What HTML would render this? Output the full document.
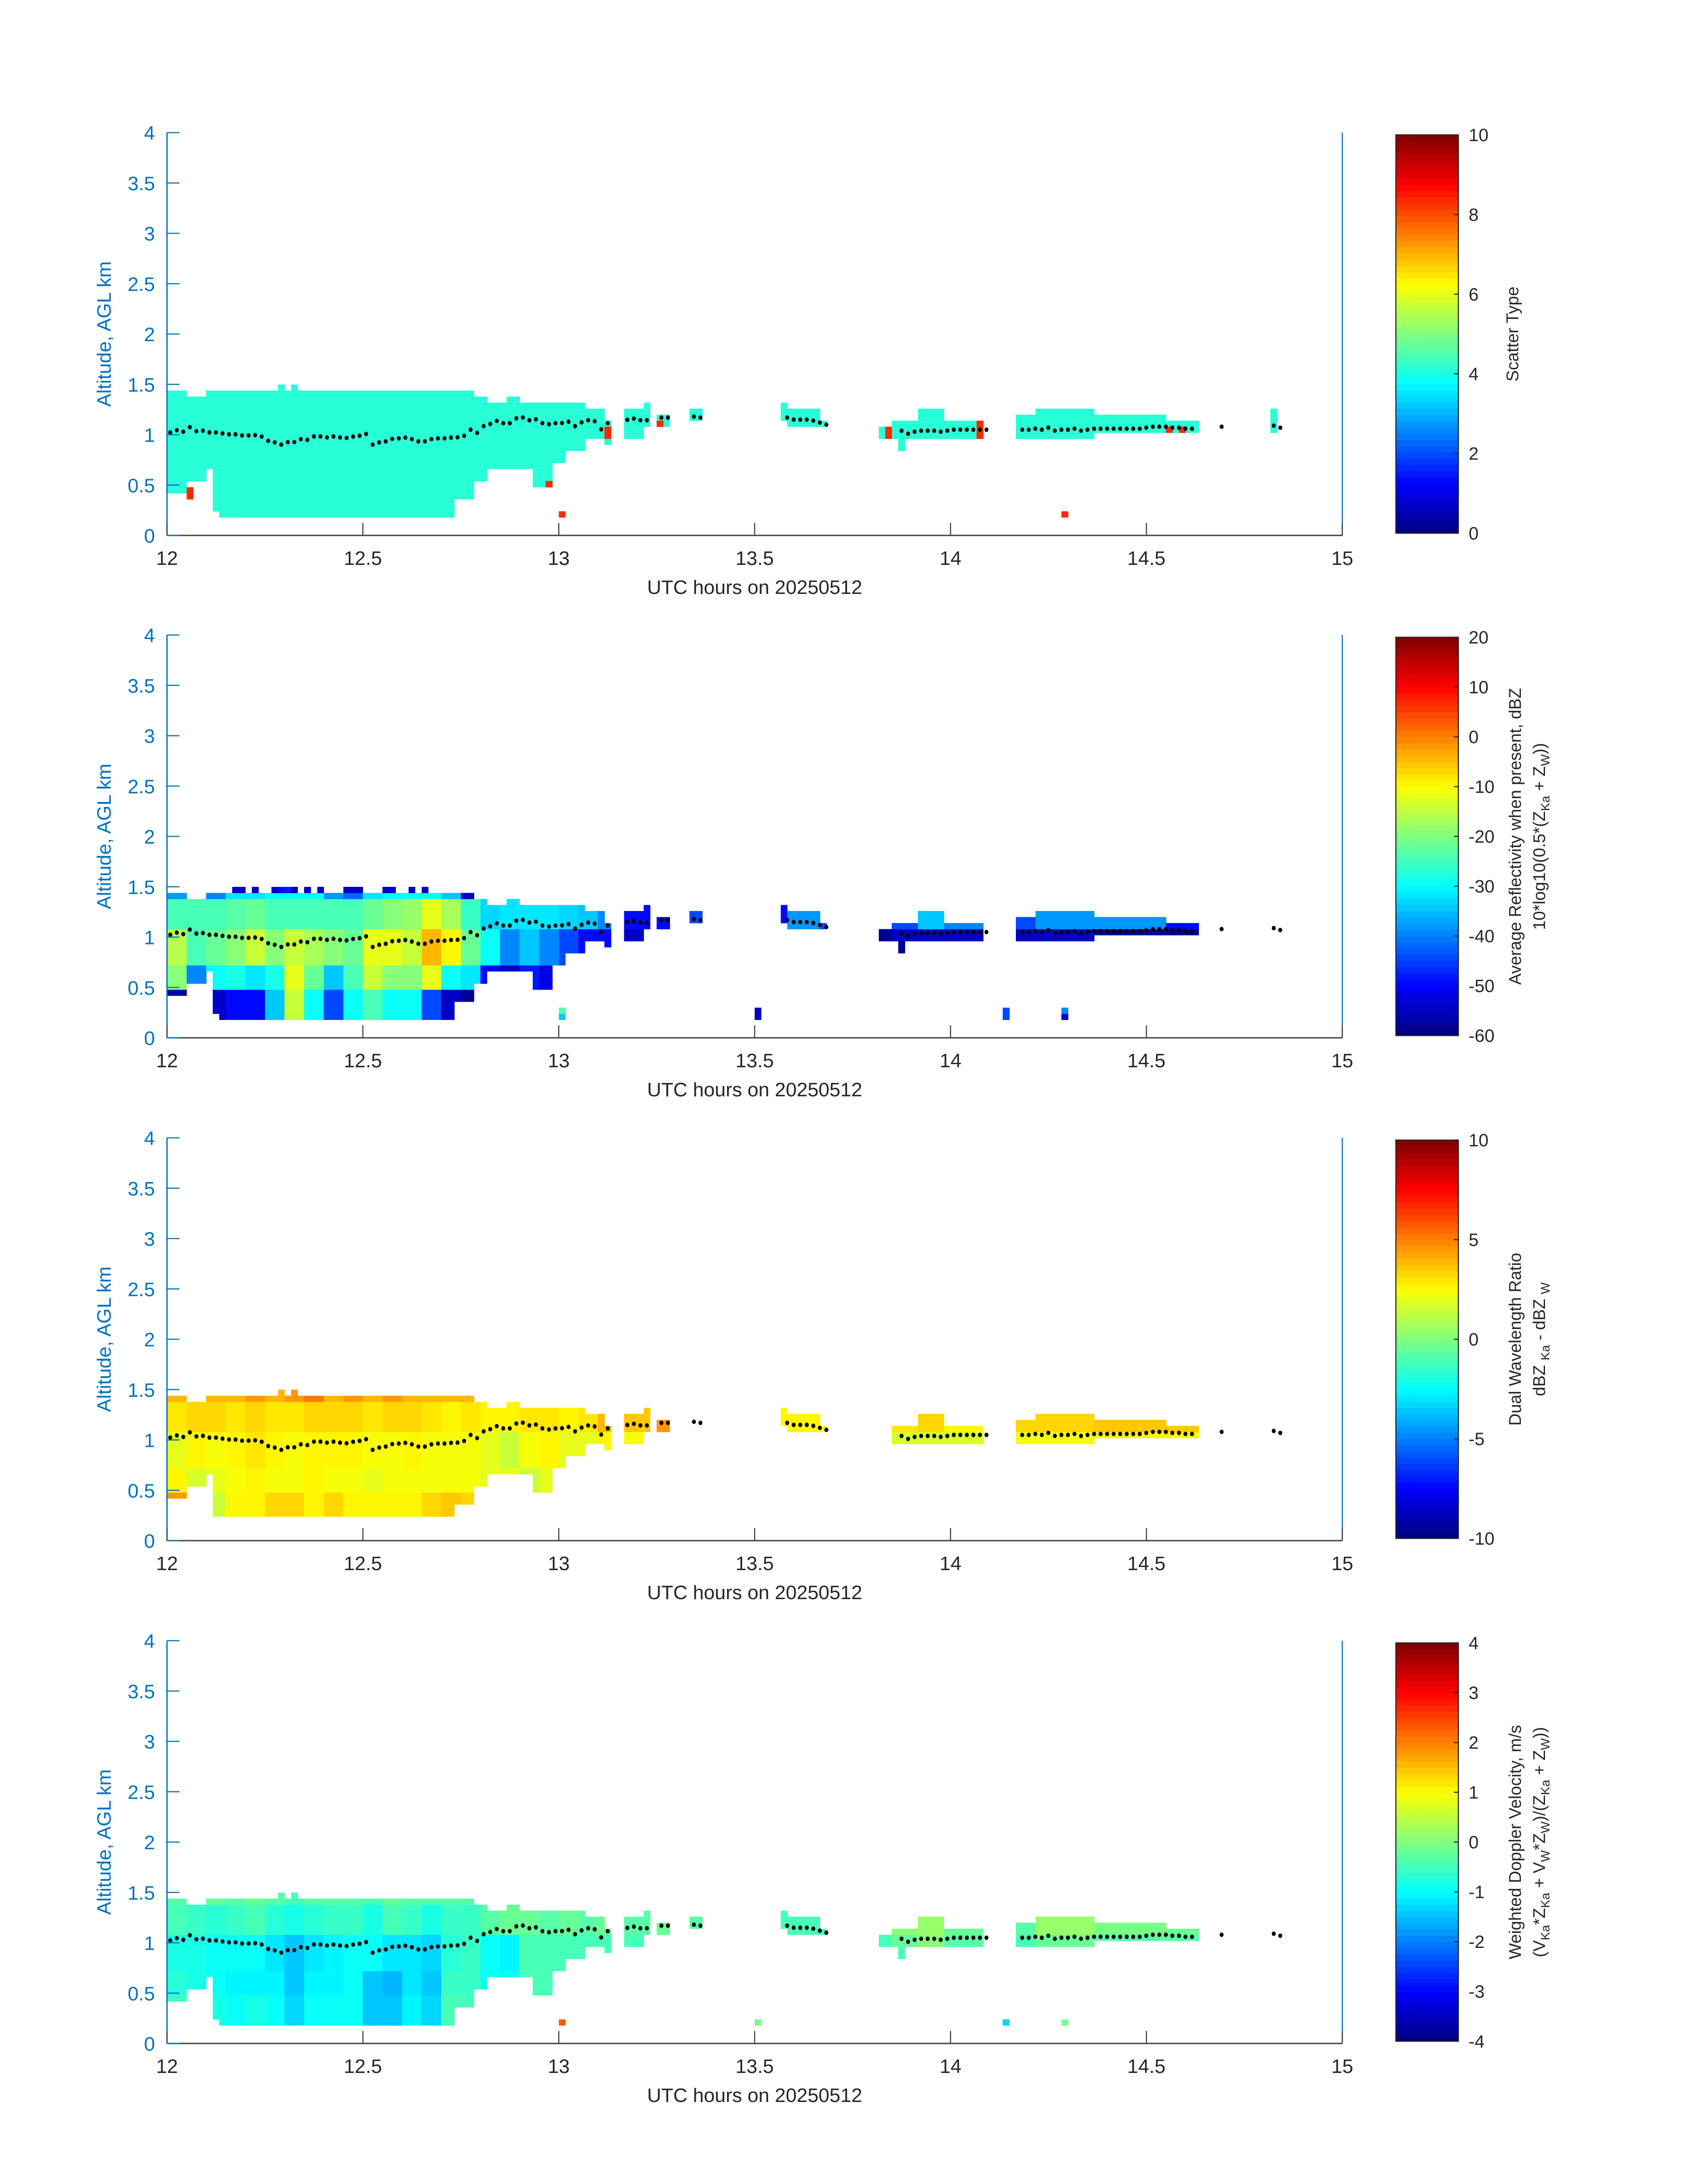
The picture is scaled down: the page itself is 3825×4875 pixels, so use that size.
<!DOCTYPE html>
<html><head><meta charset="utf-8"><title>Radar panels</title>
<style>
html,body{margin:0;padding:0;background:#fff;}
svg{display:block;font-family:"Liberation Sans",sans-serif;}
</style></head>
<body>
<svg id="fig" width="3825" height="4875" viewBox="0 0 3825 4875" xmlns="http://www.w3.org/2000/svg"></svg>
<script>
// ---------- data ----------
const xTicks = [12, 12.5, 13, 13.5, 14, 14.5, 15];
const yTicks = [0, 0.5, 1, 1.5, 2, 2.5, 3, 3.5, 4];
const cbTicks1 = [0, 2, 4, 6, 8, 10];
const cbTicks2 = [-60, -50, -40, -30, -20, -10, 0, 10, 20];
const cbTicks3 = [-10, -5, 0, 5, 10];
const cbTicks4 = [-4, -3, -2, -1, 0, 1, 2, 3, 4];

// cloud mask segments [tStart, tEnd, zBottom, zTop]
const mainSegs = [
  [12.00,12.05,0.42,1.44],[12.05,12.10,0.54,1.38],[12.10,12.12,0.66,1.44],
  [12.12,12.14,0.24,1.44],[12.14,12.73,0.18,1.44],[12.29,12.30,1.44,1.50],[12.32,12.33,1.44,1.50],
  [12.73,12.78,0.36,1.44],[12.78,12.82,0.54,1.38],[12.82,12.94,0.66,1.32],[12.87,12.90,1.32,1.38],
  [12.94,12.99,0.48,1.32],[12.99,13.02,0.72,1.32],[13.02,13.06,0.84,1.32],[13.06,13.12,0.96,1.26],
  [13.12,13.135,0.90,1.14]
];
const islands = [
  [13.17,13.21,0.96,1.26],[13.21,13.23,1.08,1.32],[13.25,13.28,1.08,1.20],[13.33,13.36,1.14,1.26],
  [13.57,13.59,1.14,1.32],[13.59,13.66,1.08,1.26],[13.66,13.68,1.08,1.14],[13.82,13.85,0.96,1.08],
  [13.85,13.92,0.96,1.14],[13.87,13.88,0.84,0.96],[13.92,13.99,0.96,1.26],[13.99,14.08,0.96,1.14],
  [14.17,14.21,0.96,1.20],[14.21,14.37,0.96,1.26],[14.37,14.55,1.02,1.20],[14.55,14.63,1.02,1.14],
  [14.68,14.69,1.08,1.26],[14.82,14.84,1.02,1.26]
];

// panel 1: scatter type
const p1Base = 4.2;
const p1Red = [[12.055,0.36,0.48,8.3],[12.975,0.48,0.54,8.3],[13.015,0.18,0.24,8.3],[13.125,0.96,1.08,8.3],
  [13.265,1.08,1.14,8.3],[13.835,0.96,1.08,8.3],[14.075,0.96,1.14,8.3],[14.285,0.18,0.24,8.3],
  [14.555,1.02,1.08,8.3],[14.585,1.02,1.08,8.3]];
const p1IslUp = [4.2,4.2,4.2,4.2,4.2,4.2,4.2,4.2,4.2,4.2,4.2,4.2,4.2,4.2,4.2,4.2,4.2,4.2];
const p1IslLo = [4.2,4.2,4.2,4.2,4.2,4.2,4.2,4.2,4.2,4.2,4.2,4.2,4.2,4.2,4.2,4.2,4.2,4.2];

// panel 2: reflectivity, bins of 0.05 h from 12.00; bands cap>=1.38, hi 1.1-1.38, mid .75-1.1, lo .45-.75, bot <.45
const p2Cap = [-38,-50,-40,-32,-32,-30,-30,-30,-38,-42,-32,-30,-30,-30,-35,-55,-50,-50,-55,-55,-55,-55,-55,-55];
const p2Hi  = [-24,-24,-24,-23,-22,-24,-24,-24,-25,-25,-22,-19,-18,-12,-17,-26,-33,-32,-32,-32,-33,-35,-40,-45];
const p2Mid = [-16,-25,-22,-20,-15,-20,-14,-17,-20,-22,-12,-12,-15,-5,-10,-22,-30,-40,-35,-40,-45,-50,-50,-55];
const p2Lo  = [-20,-40,-30,-28,-32,-28,-12,-22,-35,-25,-15,-20,-20,-12,-30,-32,-50,-55,-48,-52,-55,-55,-55,-55];
const p2Bot = [-57,-57,-55,-50,-50,-35,-15,-30,-45,-30,-25,-30,-30,-45,-55,-58,-58,-58,-58,-58,-58,-58,-58,-58];
const p2IslUp = [-50,-50,-50,-45,-50,-38,-45,-58,-45,-58,-35,-40,-45,-38,-38,-50,null,null];
const p2IslLo = [-55,-55,-55,-55,-55,-45,-50,-58,-55,-58,-55,-55,-55,-55,-58,-58,null,null];
const p2Extra = [[12.17,1.44,1.50,-55],[12.185,1.44,1.50,-55],[12.225,1.44,1.50,-55],[12.275,1.44,1.50,-55],
  [12.29,1.44,1.50,-50],[12.305,1.44,1.50,-48],[12.32,1.44,1.50,-55],[12.365,1.44,1.50,-55],[12.385,1.44,1.50,-55],
  [12.455,1.44,1.50,-55],[12.47,1.44,1.50,-55],[12.485,1.44,1.50,-55],[12.555,1.44,1.50,-55],[12.575,1.44,1.50,-55],
  [12.625,1.44,1.50,-55],[12.665,1.44,1.50,-55],
  [13.015,0.18,0.24,-35],[13.015,0.24,0.30,-25],[13.515,0.18,0.30,-55],[14.145,0.18,0.30,-45],[14.285,0.18,0.24,-55],[14.295,0.24,0.30,-40]];

// panel 3: DWR
const p3Cap = [4,4.5,4,4,4.5,4,4.5,5,4,4.5,4,4.5,4,4,4,4,4,4,4,4,4,4,4,4];
const p3Hi  = [3.0,3.3,3.3,3.0,3.3,3.0,3.0,3.3,3.3,3.3,3.0,3.3,3.3,3.0,2.8,3.0,2.6,2.6,3.0,3.0,2.6,3.0,4.0,4.0];
const p3Mid = [2.0,2.6,2.4,2.8,3.0,2.8,2.4,2.8,2.8,2.8,2.4,2.4,2.8,2.4,2.4,2.4,2.0,1.5,2.4,2.8,2.0,2.0,2.8,3.0];
const p3Lo  = [2.5,1.8,2.0,2.3,2.6,2.4,2.4,2.6,2.4,2.4,2.0,2.3,2.3,2.4,2.4,2.4,2.0,2.0,1.5,2.0,1.5,1.5,1.5,1.5];
const p3Bot = [4.5,4,1.5,2.5,2.8,3.2,3.2,2.8,3.2,2.8,2.5,2.5,2.8,3.2,3.5,3.2,2.5,2.5,2.5,2.5,2.5,2.5,2.5,2.5];
const p3IslUp = [3.5,3.5,4.5,null,2.5,2.5,2.5,null,3,null,3.2,2.5,3.2,3.2,3.5,3.5,null,null];
const p3IslLo = [2.2,2.2,2.2,null,2.5,2.5,2.5,null,1.8,null,1.8,1.8,2.2,2.2,2.5,2.5,null,null];

// panel 4: Doppler velocity
const p4Cap = [-0.3,-0.3,-0.2,-0.3,-0.2,-0.3,-0.4,-0.3,-0.3,-0.3,-0.4,-0.2,-0.3,-0.3,-0.3,-0.3,0,0.3,-0.2,-0.2,-0.2,-0.2,-0.5,-0.5];
const p4Hi  = [-0.5,-0.6,-0.7,-0.6,-0.5,-0.7,-0.8,-0.7,-0.6,-0.6,-0.8,-0.5,-0.6,-0.8,-0.6,-0.6,-0.3,-0.2,-0.2,-0.3,-0.2,-0.3,-0.2,-0.3];
const p4Mid = [-0.8,-0.8,-0.9,-1.0,-1.0,-1.2,-1.4,-1.2,-1.1,-1.0,-1.0,-1.2,-1.2,-1.3,-0.7,-0.6,-1.0,-1.1,-0.5,-0.5,-0.5,-0.4,-0.4,-0.4];
const p4Lo  = [-0.7,-0.8,-1.0,-1.1,-1.1,-1.1,-1.5,-1.1,-1.1,-1.0,-1.5,-1.6,-1.2,-1.4,-0.6,-0.6,-0.9,-0.9,-0.4,-0.4,-0.4,-0.4,-0.4,-0.4];
const p4Bot = [-0.6,-0.6,-0.8,-0.9,-0.8,-0.9,-1.3,-1.0,-0.9,-0.9,-1.4,-1.4,-1.1,-1.3,-0.4,-0.5,-0.5,-0.5,-0.5,-0.5,-0.5,-0.5,-0.5,-0.5];
const p4IslUp = [-0.3,-0.3,-0.2,-0.3,-0.5,-0.5,-0.5,-0.3,0,-0.3,0.2,-0.2,-0.3,0.2,-0.1,-0.2,null,null];
const p4IslLo = [-0.5,-0.5,-0.5,-0.5,-0.6,-0.6,-0.6,-0.5,-0.2,-0.5,0,-0.3,-0.4,-0.2,-0.3,-0.3,null,null];
const p4Extra = [[13.015,0.18,0.24,2.3],[13.515,0.18,0.24,-0.1],[14.145,0.18,0.24,-1.3],[14.285,0.18,0.24,-0.1],[14.295,0.18,0.24,-0.1]];

// melting-layer dots: groups of [start hour, heights km] at 1-minute spacing
const dotStarts = [12.0083, 13.175, 13.262, 13.345, 13.583, 13.875, 14.183, 14.692, 14.825];
const dotHeights = [
  [1.023,1.045,1.030,1.075,1.035,1.041,1.023,1.023,1.013,1.004,1.004,0.993,0.993,0.996,0.982,0.939,0.924,0.902,0.927,0.927,0.956,0.949,0.983,0.983,0.973,0.983,0.973,0.967,0.982,0.990,1.008,0.902,0.924,0.934,0.959,0.964,0.971,0.956,0.934,0.934,0.956,0.964,0.964,0.971,0.974,0.990,1.050,1.018,1.085,1.107,1.137,1.115,1.115,1.163,1.171,1.144,1.153,1.115,1.104,1.115,1.116,1.129,1.085,1.123,1.144,1.134,1.053,1.115],
  [1.148,1.160,1.144,1.144],
  [1.17,1.17],
  [1.18,1.17],
  [1.17,1.15,1.15,1.15,1.14,1.12,1.10],
  [1.04,1.01,1.03,1.04,1.04,1.04,1.03,1.04,1.05,1.05,1.05,1.05,1.05,1.05],
  [1.05,1.05,1.06,1.05,1.07,1.04,1.05,1.05,1.06,1.04,1.05,1.06,1.06,1.06,1.06,1.06,1.06,1.06,1.06,1.07,1.08,1.08,1.08,1.07,1.07,1.06,1.06],
  [1.08],
  [1.09,1.07]
];

// ---------- layout ----------
const NS = "http://www.w3.org/2000/svg";
const svg = document.getElementById("fig");
const AX_L = 374, AX_R = 3006, AX_H = 902;
const bottoms = [1199, 2324, 3450, 4576];
const CB_L = 3126, CB_R = 3266;
const X0 = 12, X1 = 15, Y0 = 0, Y1 = 4;

function mk(tag, attrs, parent) {
  const e = document.createElementNS(NS, tag);
  for (const k in attrs) e.setAttribute(k, attrs[k]);
  (parent || svg).appendChild(e);
  return e;
}
function jet(f) {
  f = Math.max(0, Math.min(0.99999, f));
  f = (Math.floor(f * 64) + 0.5) / 64;
  const c = v => Math.round(255 * Math.max(0, Math.min(1, v)));
  const r = c(1.5 - Math.abs(4 * f - 3)), g = c(1.5 - Math.abs(4 * f - 2)), b = c(1.5 - Math.abs(4 * f - 1));
  return "rgb(" + r + "," + g + "," + b + ")";
}

const panels = [
  {cap:null, vmin:0, vmax:10, ticks:cbTicks1, label:[["Scatter Type"]], islUp:p1IslUp, islLo:p1IslLo, extra:p1Red, zmin:0, base:p1Base},
  {cap:[p2Cap,p2Hi,p2Mid,p2Lo,p2Bot], vmin:-60, vmax:20, ticks:cbTicks2,
    label:[["Average Reflectivity when present, dBZ"],["10*log10(0.5*(Z","Ka"," + Z","W","))"]], islUp:p2IslUp, islLo:p2IslLo, extra:p2Extra, zmin:0},
  {cap:[p3Cap,p3Hi,p3Mid,p3Lo,p3Bot], vmin:-10, vmax:10, ticks:cbTicks3,
    label:[["Dual Wavelength Ratio"],["dBZ ","Ka"," - dBZ ","W"]], islUp:p3IslUp, islLo:p3IslLo, extra:[], zmin:0.26},
  {cap:[p4Cap,p4Hi,p4Mid,p4Lo,p4Bot], vmin:-4, vmax:4, ticks:cbTicks4,
    label:[["Weighted Doppler Velocity, m/s"],["(V","Ka","*Z","Ka"," + V","W","*Z","W",")/(Z","Ka"," + Z","W","))"]], islUp:p4IslUp, islLo:p4IslLo, extra:p4Extra, zmin:0}
];

panels.forEach((P, pi) => {
  const bot = bottoms[pi], top = bot - AX_H;
  const xs = t => AX_L + (t - X0) / (X1 - X0) * (AX_R - AX_L);
  const ys = z => bot - (z - Y0) / (Y1 - Y0) * AX_H;
  const col = v => jet((v - P.vmin) / (P.vmax - P.vmin));
  const g = mk("g", {});
  
  
  const cells = mk("g", {"shape-rendering":"crispEdges"}, g);
  
  

  function drawCell(t0, z0, v) {
    const r = mk("rect", {x: xs(t0).toFixed(1), y: ys(z0 + 0.06).toFixed(1),
      width: (xs(t0 + 1/60) - xs(t0) + 0.6).toFixed(1), height: (ys(z0) - ys(z0 + 0.06) + 0.6).toFixed(1), fill: col(v)}, cells);
    
    
  }
  function inSeg(tc, zc, s) { return tc >= s[0] && tc <= s[1] && zc >= s[2] && zc <= s[3]; }

  for (let c = 0; c < 180; c++) {
    const t0 = 12 + c / 60, tc = t0 + 1/120;
    for (let r = 0; r < 22; r++) {
      const z0 = 0.18 + r * 0.06, zc = z0 + 0.03;
      if (zc < P.zmin) continue;
      let v = null;
      if (mainSegs.some(s => inSeg(tc, zc, s))) {
        if (P.base !== undefined) v = P.base;
        else {
          const b = Math.min(23, Math.floor((tc - 12) / 0.05));
          const band = zc >= 1.38 ? 0 : zc >= 1.1 ? 1 : zc >= 0.75 ? 2 : zc >= 0.45 ? 3 : 4;
          v = P.cap[band][b];
        }
      } else {
        for (let k = 0; k < islands.length; k++) {
          if (inSeg(tc, zc, islands[k])) { v = zc >= 1.1 ? P.islUp[k] : P.islLo[k]; break; }
        }
      }
      if (v !== null && v !== undefined) drawCell(t0, z0, v);
    }
  }
  P.extra.forEach(e => {
    const t0 = 12 + Math.floor((e[0] - 12) * 60) / 60;
    for (let z = e[1]; z < e[2] - 0.001; z += 0.06) drawCell(t0, z, e[3]);
  });

  // dots
  const dots = mk("g", {}, g);
  
  
  dotStarts.forEach((st, gi) => {
    dotHeights[gi].forEach((h, i) => {
      const d = mk("ellipse", {cx: xs(st + i / 60).toFixed(1), cy: ys(h).toFixed(1), rx: 4.5, ry: 5, fill: "#000"}, dots);
      
      
    });
  });

  // axes
  const ax = mk("g", {}, g);
  
  
  const la = mk("line", {x1: AX_L, y1: top, x2: AX_L, y2: bot, stroke: "#0072BD", "stroke-width": 3}, ax);
  
  
  const ra = mk("line", {x1: AX_R, y1: top, x2: AX_R, y2: bot, stroke: "#0072BD", "stroke-width": 2.5}, ax);
  
  
  const ba = mk("line", {x1: AX_L, y1: bot, x2: AX_R, y2: bot, stroke: "#404040", "stroke-width": 3}, ax);
  
  
  yTicks.forEach(v => {
    const y = ys(v);
    const tl = mk("line", {x1: AX_L, y1: y, x2: AX_L + 28, y2: y, stroke: "#0072BD", "stroke-width": 2.5}, ax);
    
    
    const tx = mk("text", {x: 347, y: y + 16, "text-anchor": "end", "font-size": 44, fill: "#0072BD"}, ax);
    tx.textContent = String(v);
    
    
  });
  xTicks.forEach(v => {
    const x = xs(v);
    const tl = mk("line", {x1: x, y1: bot, x2: x, y2: bot - 28, stroke: "#404040", "stroke-width": 2.5}, ax);
    
    
    const tx = mk("text", {x: x, y: bot + 66, "text-anchor": "middle", "font-size": 44, fill: "#262626"}, ax);
    tx.textContent = String(v);
    
    
  });
  const xl = mk("text", {x: (AX_L + AX_R) / 2, y: bot + 131, "text-anchor": "middle", "font-size": 44, fill: "#262626"}, ax);
  xl.textContent = "UTC hours on 20250512";
  
  
  const yl = mk("text", {x: 0, y: 0, "text-anchor": "middle", "font-size": 44, fill: "#0072BD",
    transform: "translate(248," + ((top + bot) / 2) + ") rotate(-90)"}, ax);
  yl.textContent = "Altitude, AGL km";
  
  

  // colorbar
  const cb = mk("g", {}, g);
  
  
  const cbT = top + 5, cbB = bot - 5, cbH = cbB - cbT;
  for (let i = 0; i < 64; i++) {
    const r = mk("rect", {x: CB_L, y: (cbB - (i + 1) * cbH / 64).toFixed(2), width: CB_R - CB_L, height: (cbH / 64 + 0.8).toFixed(2),
      fill: jet((i + 0.5) / 64), "shape-rendering": "crispEdges"}, cb);
    
    
  }
  const fr = mk("rect", {x: CB_L, y: cbT, width: CB_R - CB_L, height: cbH, fill: "none", stroke: "#262626", "stroke-width": 2.5}, cb);
  
  
  P.ticks.forEach(v => {
    const y = cbB - (v - P.vmin) / (P.vmax - P.vmin) * cbH;
    const tl = mk("line", {x1: CB_R - 10, y1: y, x2: CB_R, y2: y, stroke: "#262626", "stroke-width": 2.5}, cb);
    
    
    const tx = mk("text", {x: 3289, y: y + 14, "font-size": 40, fill: "#262626"}, cb);
    tx.textContent = String(v);
    
    
  });
  const n = P.label.length;
  P.label.forEach((parts, li) => {
    const lx = n === 1 ? 3400 : (li === 0 ? 3406 : 3460);
    const t = mk("text", {x: 0, y: 0, "text-anchor": "middle", "font-size": 38, fill: "#262626",
      transform: "translate(" + lx + "," + ((top + bot) / 2) + ") rotate(-90)"}, cb);
    
    
    parts.forEach((p, k) => {
      const ts = mk("tspan", {}, t);
      const sub = (k % 2 === 1);
      if (sub) { ts.setAttribute("font-size", 28); ts.setAttribute("dy", 10); }
      else if (k > 0) { ts.setAttribute("dy", -10); }
      ts.textContent = p;
    });
  });
});
</script>
</body></html>
